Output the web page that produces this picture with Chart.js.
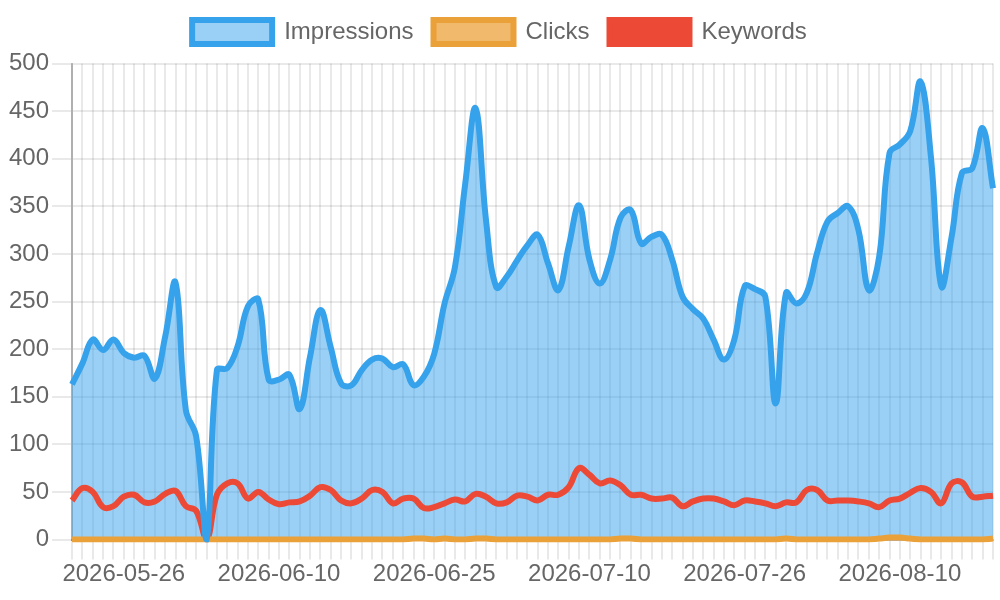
<!DOCTYPE html>
<html>
<head>
<meta charset="utf-8">
<script src="https://cdn.jsdelivr.net/npm/chart.js@4"></script>
<style>
html,body{margin:0;padding:0;background:#fff;overflow:hidden}
#wrap{width:1000px;height:600px;position:relative}
</style>
</head>
<body>
<div id="wrap"><canvas id="c"></canvas></div>
<script>
const dates = [
 '2026-05-21','2026-05-22','2026-05-23','2026-05-24','2026-05-25','2026-05-26','2026-05-27','2026-05-28','2026-05-29','2026-05-30','2026-05-31',
 '2026-06-01','2026-06-02','2026-06-03','2026-06-04','2026-06-05','2026-06-06','2026-06-07','2026-06-08','2026-06-09','2026-06-10',
 '2026-06-11','2026-06-12','2026-06-13','2026-06-14','2026-06-15','2026-06-16','2026-06-17','2026-06-18','2026-06-19','2026-06-20',
 '2026-06-21','2026-06-22','2026-06-23','2026-06-24','2026-06-25','2026-06-26','2026-06-27','2026-06-28','2026-06-29','2026-06-30',
 '2026-07-01','2026-07-02','2026-07-03','2026-07-04','2026-07-05','2026-07-06','2026-07-07','2026-07-08','2026-07-09','2026-07-10',
 '2026-07-11','2026-07-12','2026-07-13','2026-07-14','2026-07-15','2026-07-16','2026-07-17','2026-07-19','2026-07-20','2026-07-21',
 '2026-07-22','2026-07-23','2026-07-24','2026-07-25','2026-07-26','2026-07-27','2026-07-28','2026-07-29','2026-07-30','2026-07-31',
 '2026-08-01','2026-08-02','2026-08-03','2026-08-04','2026-08-05','2026-08-06','2026-08-07','2026-08-08','2026-08-09','2026-08-10',
 '2026-08-11','2026-08-12','2026-08-13','2026-08-14','2026-08-15','2026-08-16','2026-08-17','2026-08-18','2026-08-19'
];

const shownTicks = ['2026-05-26','2026-06-10','2026-06-25','2026-07-10','2026-07-26','2026-08-10'];

const impressions = [
 163,185,210,199,210,196,191,193,169,213,
 270,136,108,0,178,180,203,245,252,168,
 168,173,137,192,241,202,164,162,178,189,
 190,181,184,162,171,195,248,286,374,453,
 336,265,276,293,309,320,290,262,308,351,
 294,269,294,338,346,311,318,320,294,255,
 242,232,210,189,210,266,263,255,143,259,
 248,259,301,334,343,350,325,262,297,406,
 415,429,481,402,266,318,385,390,432,369
];

const clicks = [
 0,0,0,0,0,0,0,0,0,0,
 0,0,0,0,0,0,0,0,0,0,
 0,0,0,0,0,0,0,0,0,0,
 0,0,0,1,1,0,1,0,0,1,
 1,0,0,0,0,0,0,0,0,0,
 0,0,0,1,1,0,0,0,0,0,
 0,0,0,0,0,0,0,0,0,1,
 0,0,0,0,0,0,0,0,1,2,
 2,1,0,0,0,0,0,0,0,1
];

const keywords = [
 41,54,50,34,35,45,47,39,40,48,
 51,35,30,0,47,59,59,43,50,42,
 37,39,40,46,55,52,41,38,43,52,
 50,38,43,43,33,34,38,42,40,48,
 45,38,39,46,45,41,47,47,55,75,
 68,59,62,57,47,47,43,43,44,35,
 40,43,43,40,36,41,40,38,35,39,
 39,52,52,41,41,41,40,38,34,41,
 43,49,54,50,38,59,60,45,45,46
];

const yTicks = { max: 500, step: 50 };

Chart.defaults.font.family = "'Liberation Sans', Arial, Helvetica, sans-serif";
Chart.defaults.color = '#666';

// extra space below the legend, keeping the legend itself at the top
const legendSpacer = {
  id: 'legendSpacer',
  beforeLayout(chart) {
    const lg = chart.legend;
    if (lg && !lg._spaced) {
      const fit = lg.fit.bind(lg);
      lg.fit = function () { fit(); this.height += 9.5; };
      lg._spaced = true;
    }
  }
};

const gridColor = 'rgba(0,0,0,0.085)';
const axisColor = 'rgba(0,0,0,0.25)';

new Chart(document.getElementById('c'), {
  type: 'line',
  data: {
    labels: dates,
    datasets: [
      { label: 'Impressions', data: impressions, borderColor: '#36A2EB', backgroundColor: 'rgba(54,162,235,0.5)', borderWidth: 6, fill: 'origin' },
      { label: 'Clicks', data: clicks, borderColor: '#EBA13A', backgroundColor: 'rgba(235,161,58,0.75)', borderWidth: 6, fill: false },
      { label: 'Keywords', data: keywords, borderColor: '#EC4A36', backgroundColor: '#EC4A36', borderWidth: 6, fill: false }
    ]
  },
  plugins: [legendSpacer],
  options: {
    responsive: true,
    maintainAspectRatio: false,
    animation: false,
    layout: { padding: { left: 6, right: 7, top: 0, bottom: 11.7 } },
    elements: { point: { radius: 0, hoverRadius: 0 }, line: { tension: 0.4 } },
    plugins: {
      legend: { labels: { font: { size: 24 }, color: '#666', boxWidth: 80, boxHeight: 24, padding: 20 } },
      filler: { drawTime: 'beforeDatasetsDraw' },
      tooltip: { enabled: false }
    },
    scales: {
      x: {
        grid: { tickLength: 20, color: gridColor, lineWidth: 2 },
        border: { color: axisColor, width: 2 },
        ticks: {
          autoSkip: false, maxRotation: 0, minRotation: 0, padding: 0,
          font: { size: 24 }, color: '#666',
          callback: function (v) { const l = this.getLabelForValue(v); return shownTicks.includes(l) ? l : ''; }
        }
      },
      y: {
        beginAtZero: true,
        suggestedMax: yTicks.max,
        grid: { tickLength: 20, color: gridColor, lineWidth: 2 },
        border: { color: axisColor, width: 2 },
        ticks: { stepSize: yTicks.step, font: { size: 24 }, color: '#666', padding: 3 }
      }
    }
  }
});
</script>
</body>
</html>
